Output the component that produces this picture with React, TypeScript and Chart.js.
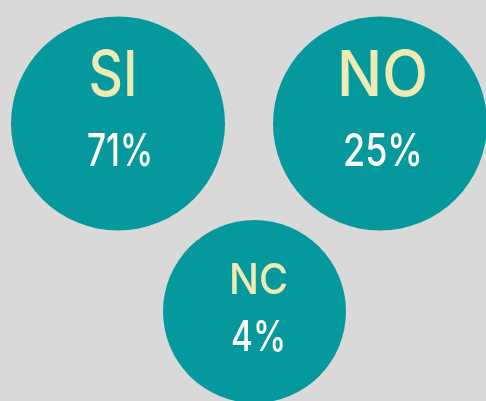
import React, { useEffect, useRef } from "react";
import { Chart, registerables } from "chart.js";

Chart.register(...registerables);

const categories = ["SI", "NO", "NC"];
const values = [71, 25, 4];
const xPos = [118, 380, 254.5];
const yPos = [123.5, 123.5, 311.5];
const radii = [107, 107, 91.5];
const labelSizes = [63, 63, 43];
const pctSizes = [45, 45, 43];
const labelWidths = [49, 91, 59];
const pctWidths = [66, 80, 55];
const labelDx = [-5, 2.5, 4];
const pctDx = [2, 3, 4];
const labelDy = [-27.5, -27.5, -17.5];
const pctDy = [42.5, 42.5, 39.5];

const BG = "#d9d9d9";
const TEAL = "#05989c";
const YELLOW = "#eeeab4";
const FONT = "Inter, 'Open Sans', sans-serif";

const textPlugin = {
  id: "bubbleText",
  afterDatasetsDraw(chart: any) {
    const ctx = chart.ctx;
    const meta = chart.getDatasetMeta(0);
    ctx.save();
    ctx.textAlign = "center";
    ctx.textBaseline = "alphabetic";
    meta.data.forEach((el: any, i: number) => {
      ctx.fillStyle = YELLOW;
      ctx.font = `500 ${labelSizes[i]}px ${FONT}`;
      ctx.fillText(categories[i], el.x + labelDx[i], el.y + labelDy[i], labelWidths[i]);
      ctx.fillStyle = "#ffffff";
      ctx.font = `500 ${pctSizes[i]}px ${FONT}`;
      ctx.fillText(`${values[i]}%`, el.x + pctDx[i], el.y + pctDy[i], pctWidths[i]);
    });
    ctx.restore();
  },
};

export default function App() {
  const ref = useRef<HTMLCanvasElement | null>(null);
  useEffect(() => {
    document.body.style.margin = "0";
    document.body.style.background = BG;
    const chart = new Chart(ref.current as HTMLCanvasElement, {
      type: "bubble",
      data: {
        labels: categories,
        datasets: [
          {
            data: categories.map((_, i) => ({ x: xPos[i], y: yPos[i], r: radii[i] })),
            backgroundColor: TEAL,
            borderWidth: 0,
            hoverRadius: 0,
            clip: false,
          } as any,
        ],
      },
      options: {
        animation: false,
        responsive: false,
        maintainAspectRatio: false,
        layout: { padding: 0, autoPadding: false },
        plugins: { legend: { display: false }, tooltip: { enabled: false } },
        events: [],
        scales: {
          x: { type: "linear", display: false, min: 0, max: 486 },
          y: { type: "linear", display: false, min: 0, max: 401, reverse: true },
        },
      } as any,
      plugins: [textPlugin],
    });
    return () => chart.destroy();
  }, []);
  return (
    <div style={{ width: 486, height: 401, background: BG }}>
      <canvas ref={ref} width={486} height={401} style={{ display: "block" }} />
    </div>
  );
}
